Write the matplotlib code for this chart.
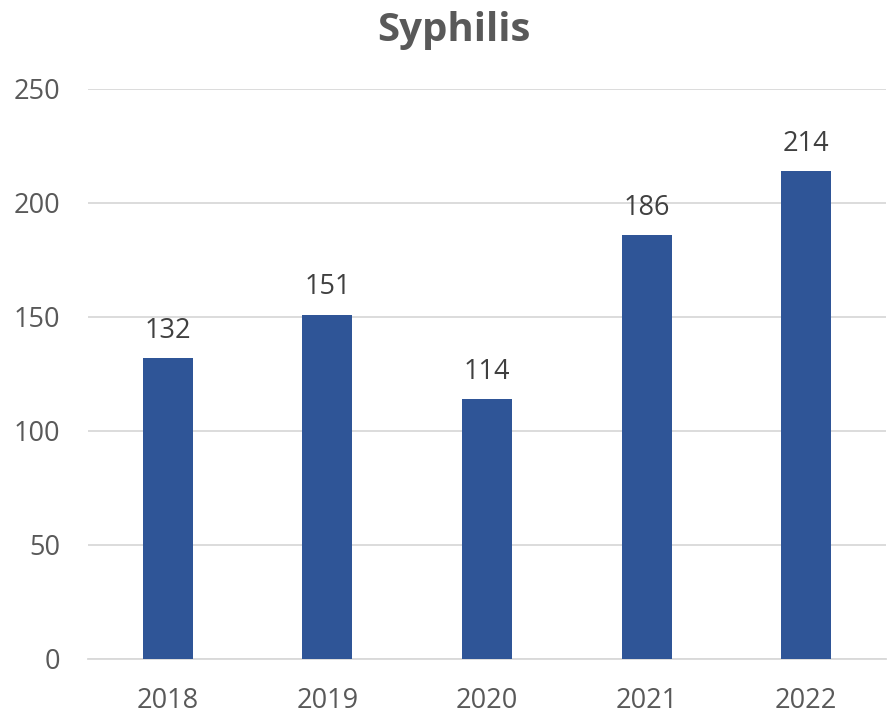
import matplotlib.pyplot as plt

years = ["2018", "2019", "2020", "2021", "2022"]
cases = [132, 151, 114, 186, 214]

plt.rcParams['font.family'] = ['Open Sans', 'DejaVu Sans']

fig = plt.figure(figsize=(8.89, 7.17), dpi=100)
ax = fig.add_axes([0.099, 0.0809, 0.8976, 0.795])

x = range(len(years))
ax.bar(x, cases, width=0.3125, color="#2F5597", zorder=3)
for i, v in zip(x, cases):
    ax.text(i, v + 5.8, str(v), ha="center", va="bottom", fontsize=19.5, color="#404040")

ax.set_xlim(-0.5, len(years) - 0.5)
ax.set_ylim(0, 250)
ax.set_yticks(range(0, 251, 50))
ax.set_xticks(list(x))
ax.set_xticklabels(years)
ax.yaxis.grid(True, color="#D9D9D9", linewidth=1.3, zorder=0)
ax.tick_params(axis="both", length=0, labelsize=19.5, labelcolor="#595959")
ax.tick_params(axis="y", pad=20)
ax.tick_params(axis="x", pad=20)
for s in ["top", "right", "left"]:
    ax.spines[s].set_visible(False)
ax.spines["bottom"].set_color("#D9D9D9")
ax.spines["bottom"].set_linewidth(1.3)

fig.text(0.51, 0.958, "Syphilis", ha="center", va="center", fontsize=29,
         fontweight="bold", color="#595959")

fig.savefig("out.png", dpi=100)
